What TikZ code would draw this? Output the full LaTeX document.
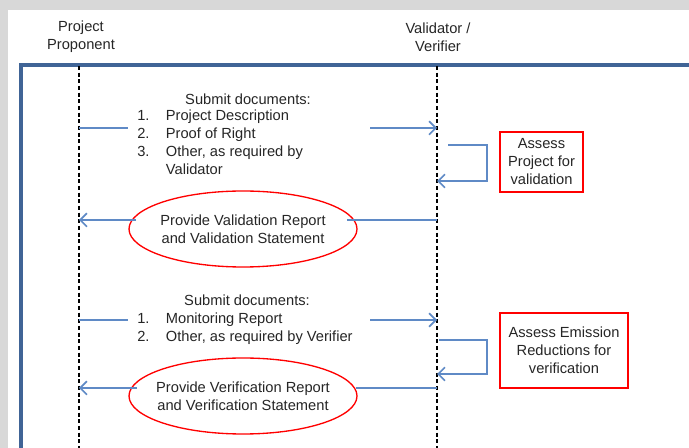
\documentclass[tikz,border=0pt]{standalone}
\usepackage{fontspec}
\setmainfont{Liberation Sans}
\usetikzlibrary{arrows.meta,shapes.geometric}
\definecolor{frameblue}{RGB}{64,100,150}
\definecolor{msgblue}{RGB}{95,138,198}
\definecolor{panelgray}{RGB}{216,216,216}

\begin{document}
\begin{tikzpicture}[x=0.75pt,y=-0.75pt,
  txt/.style={font=\fontsize{11}{13.5}\selectfont,text=black!85,inner sep=0pt},
  lifeline/.style={black,line width=1.5pt,dash pattern=on 3pt off 2pt},
  msg/.style={msgblue,line width=1.3pt},
  msgarrow/.style={msg,-{Straight Barb[length=5pt,width=10pt]}},
  actbox/.style={txt,draw=red,line width=1.3pt,align=center},
  report/.style={txt,draw=red,line width=1pt,ellipse,align=center,
    inner xsep=-10pt,inner ysep=0pt,minimum width=171pt,minimum height=57pt}]
\useasboundingbox (0,0) rectangle (689,448);
% Background panel
\fill[panelgray] (0,0) rectangle (689,448);
\fill[white] (8,10) rectangle (689,448);

% Headers
\node[txt,align=center] (pp) at (81,37) {Project\\Proponent};
\node[txt,align=center] (vv) at (438,37) {Validator /\\Verifier};

% Frame
\draw[frameblue,line width=2.4pt] (21,448) -- (21,65) -- (689,65);

% Lifelines
\coordinate (pptop) at (79,66);
\coordinate (ppbot) at (79,448);
\coordinate (vvtop) at (437,66);
\coordinate (vvbot) at (437,448);
\draw[lifeline] (pptop) -- (ppbot);
\draw[lifeline] (vvtop) -- (vvbot);

% Message points on the lifelines
\foreach \n/\y in {1/128,2/220,3/320,4/388} {
    \coordinate (pp\n) at (79,\y);
    \coordinate (vv\n) at (437,\y);
}

% Submit documents (validation)
\node[txt,anchor=base] (sub1) at (248,105) {Submit documents:};
\node[txt,anchor=base west] (list1) at (137,121) {%
  \begin{tabular}[t]{@{}p{21.5pt}@{}l@{}}
  1. & Project Description\\
  2. & Proof of Right\\
  3. & Other, as required by\\
     & Validator
  \end{tabular}};
\coordinate (s1l) at (128,128);
\coordinate (s1r) at (370,128);
\draw[msg] (pp1) -- (s1l);
\draw[msgarrow] (s1r) -- (vv1);

% Assess project
\coordinate (lp1a) at (448,145);
\coordinate (lp1b) at (437,181);
\draw[msgarrow] (lp1a) -- ++(39,0) |- (lp1b);
\node[actbox,minimum width=62.25pt,minimum height=45pt] (assess1) at (541.5,162)
  {Assess\\Project for\\validation};

% Validation report
\node[report] (valrep) at (243,229) {Provide Validation Report\\and Validation Statement};
\coordinate (v2r) at (347,220);
\coordinate (v2l) at (136,220);
\draw[msg] (vv2) -- (v2r);
\draw[msgarrow] (v2l) -- (pp2);

% Submit documents (verification)
\node[txt,anchor=base] (sub2) at (247,306) {Submit documents:};
\node[txt,anchor=base west] (list2) at (137,324) {%
  \begin{tabular}[t]{@{}p{21.5pt}@{}l@{}}
  1. & Monitoring Report\\
  2. & Other, as required by Verifier
  \end{tabular}};
\coordinate (s3l) at (128,320);
\coordinate (s3r) at (370,320);
\draw[msg] (pp3) -- (s3l);
\draw[msgarrow] (s3r) -- (vv3);

% Assess emission reductions
\coordinate (lp2a) at (439,340);
\coordinate (lp2b) at (437,374);
\draw[msgarrow] (lp2a) -- ++(48,0) |- (lp2b);
\node[actbox,minimum width=96pt,minimum height=56.25pt] (assess2) at (564,350.5)
  {Assess Emission\\Reductions for\\verification};

% Verification report
\node[report] (verrep) at (243,396) {Provide Verification Report\\and Verification Statement};
\coordinate (v4r) at (356,388);
\coordinate (v4l) at (137,388);
\draw[msg] (vv4) -- (v4r);
\draw[msgarrow] (v4l) -- (pp4);
\end{tikzpicture}
\end{document}
